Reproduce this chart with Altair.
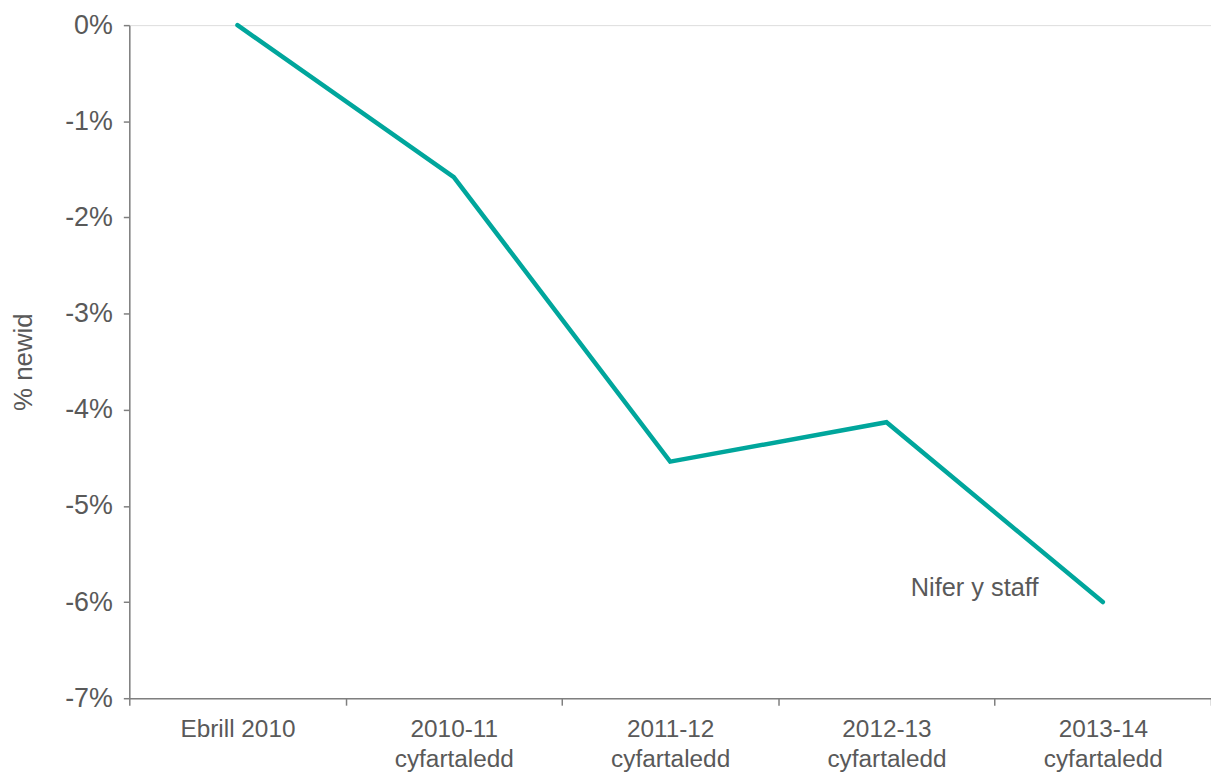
import altair as alt
import pandas as pd

categories = ["Ebrill 2010", "2010-11\ncyfartaledd", "2011-12\ncyfartaledd",
              "2012-13\ncyfartaledd", "2013-14\ncyfartaledd"]
values = [0.0, -0.0158, -0.0454, -0.0413, -0.0600]
y_ticks = [0, -0.01, -0.02, -0.03, -0.04, -0.05, -0.06, -0.07]
label_text = ["Nifer y staff"]
label_cat = [categories[4]]
label_val = [-0.0585]

df = pd.DataFrame({"cat": categories, "val": values})
ann = pd.DataFrame({"cat": label_cat, "val": label_val, "text": label_text})

FONT = "Liberation Sans"
TEXT = "#595959"
AXIS = "#7f7f7f"
TEAL = "#00A69C"

x_scale = alt.Scale(type="band", paddingInner=0, paddingOuter=0, domain=categories)
y_scale = alt.Scale(domain=[-0.07, 0], nice=False)

line = alt.Chart(df).mark_line(color=TEAL, strokeWidth=4.5, strokeCap="round",
                               strokeJoin="miter").encode(
    x=alt.X("cat:N", sort=categories, title=None, scale=x_scale, bandPosition=0.5,
            axis=alt.Axis(labelExpr="split(datum.label, '\\n')", labelAngle=0,
                          labelFontSize=24.5, labelColor=TEXT, labelFont=FONT,
                          labelLineHeight=30, labelPadding=13,
                          tickBand="extent", tickSize=7, tickColor=AXIS,
                          domainColor=AXIS, domainWidth=1.5, tickWidth=1.5,
                          grid=False)),
    y=alt.Y("val:Q", scale=y_scale, title="% newid",
            axis=alt.Axis(values=y_ticks, format=".0%",
                          labelExpr="replace(datum.label, '\u2212', '-')",
                          labelFontSize=27,
                          labelColor=TEXT, labelFont=FONT, labelPadding=11,
                          tickSize=6, tickColor=AXIS, domainColor=AXIS,
                          domainWidth=1.5, tickWidth=1.5, grid=False,
                          titleFontSize=26, titleFont=FONT, titleColor=TEXT,
                          titleFontWeight="normal", titlePadding=28)),
)

text = alt.Chart(ann).mark_text(font=FONT, fontSize=25.5, color=TEXT, dx=-129,
                                align="center", baseline="middle").encode(
    x=alt.X("cat:N", sort=categories, bandPosition=0.5, scale=x_scale),
    y=alt.Y("val:Q", scale=y_scale),
    text="text:N",
)

chart = alt.layer(line, text).properties(
    width=1088, height=677,
    autosize=alt.AutoSizeParams(type="none"),
    padding={"left": 122, "top": 15, "right": 0, "bottom": 75},
).configure_view(stroke=None).configure(background="white")

chart.save("out.html", embed_options={"renderer": "svg", "actions": False})
